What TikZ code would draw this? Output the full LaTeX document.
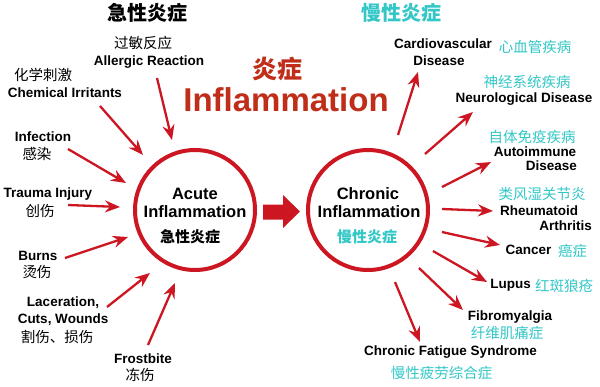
\documentclass[tikz,border=0pt]{standalone}
\usepackage{fontspec}
\setmainfont{Liberation Sans}
\newfontfamily\cjk{Noto Sans CJK SC}
\usetikzlibrary{arrows.meta}
\definecolor{myred}{RGB}{204,22,34}
\definecolor{titlered}{RGB}{192,45,25}
\definecolor{myteal}{RGB}{51,199,199}
\tikzset{
  en/.style={font=\fontsize{13.5}{15}\selectfont\bfseries, inner sep=0pt},
  zh/.style={font=\cjk\fontsize{14.5}{16}\selectfont, inner sep=0pt},
  zhc/.style={zh, text=myteal},
  arr/.style={draw=myred, line width=2.3pt, -{Stealth[length=15pt,width=12pt,inset=5pt]}},
  ring/.style={circle, draw=myred, line width=4pt, minimum size=120pt, inner sep=0pt},
}
\begin{document}
\begin{tikzpicture}[x=1pt,y=-1pt]
\useasboundingbox (0,0) rectangle (600,386);
\fill[white] (0,0) rectangle (600,386);
% titles
\node[font=\cjk\bfseries\fontsize{20}{22}\selectfont, inner sep=0pt] (tacute) at (147,13) {急性炎症};
\node[font=\cjk\bfseries\fontsize{20}{22}\selectfont, text=myteal, inner sep=0pt] (tchronic) at (401,13) {慢性炎症};
\node[font=\cjk\bfseries\fontsize{25}{27}\selectfont, text=titlered, inner sep=0pt] (tzh) at (277,69) {炎症};
\node[font=\bfseries\fontsize{33}{36}\selectfont, text=titlered, inner sep=0pt] (ten) at (286,100) {Inflammation};
% circles
\node[ring] (acute) at (195,210) {};
\node[ring] (chronic) at (368,210) {};
\node[en, font=\fontsize{16.5}{18}\selectfont\bfseries] (a1) at (195,194) {Acute};
\node[en, font=\fontsize{16.5}{18}\selectfont\bfseries] (a2) at (195,212) {Inflammation};
\node[zh, font=\cjk\bfseries\fontsize{15}{17}\selectfont] (a3) at (190,237) {急性炎症};
\node[en, font=\fontsize{16.5}{18}\selectfont\bfseries] (c1) at (368,194) {Chronic};
\node[en, font=\fontsize{16.5}{18}\selectfont\bfseries] (c2) at (369,212) {Inflammation};
\node[zhc, font=\cjk\bfseries\fontsize{15}{17}\selectfont] (c3) at (367,237) {慢性炎症};
% block arrow
\fill[myred] (263,204.5) -- (283,204.5) -- (283,195) -- (300,211.5) -- (283,228) -- (283,219.5) -- (263,219.5) -- cycle;
% left labels
\node[zh] (allzh) at (143,43) {过敏反应};
\node[en] (allen) at (149,62) {Allergic Reaction};
\node[zh] (chemzh) at (43,75) {化学刺激};
\node[en] (chemen) at (65,93) {Chemical Irritants};
\node[en] (infen) at (43,137) {Infection};
\node[zh] (infzh) at (37,154) {感染};
\node[en] (traen) at (48,194) {Trauma Injury};
\node[zh] (trazh) at (40,211) {创伤};
\node[en] (burnen) at (38,256) {Burns};
\node[zh] (burnzh) at (37,272) {烫伤};
\node[en] (lacen1) at (63,303) {Laceration,};
\node[en] (lacen2) at (63,320) {Cuts, Wounds};
\node[zh] (laczh) at (57,337) {割伤、损伤};
\node[en] (frosten) at (143,359) {Frostbite};
\node[zh] (frostzh) at (140,375) {冻伤};
% right labels
\node[en] (cv1) at (443,44) {Cardiovascular};
\node[en] (cv2) at (439,61) {Disease};
\node[zhc] (cvzh) at (535,47) {心血管疾病};
\node[zhc] (nezh) at (527,82) {神经系统疾病};
\node[en] (neen) at (524,99) {Neurological Disease};
\node[zhc] (auzh) at (532,137) {自体免疫疾病};
\node[en] (au1) at (535,152) {Autoimmune};
\node[en, anchor=east] (au2) at (577,166) {Disease};
\node[zhc] (rhzh) at (542,194) {类风湿关节炎};
\node[en] (rh1) at (539,211) {Rheumatoid};
\node[en, anchor=east] (rh2) at (592,226) {Arthritis};
\node[en] (caen) at (528.5,250) {Cancer};
\node[zhc] (cazh) at (572.5,251) {癌症};
\node[en] (luen) at (510.5,285) {Lupus};
\node[zhc] (luzh) at (564,286) {红斑狼疮};
\node[en] (fien) at (510,317) {Fibromyalgia};
\node[zhc] (fizh) at (507,333) {纤维肌痛症};
\node[en] (cfen) at (450.5,352) {Chronic Fatigue Syndrome};
\node[zhc] (cfzh) at (441.5,373) {慢性疲劳综合症};
% arrow end points
\coordinate (s1) at (157,78);  \coordinate (e1) at (172,140);
\coordinate (s2) at (100,106); \coordinate (e2) at (143,155);
\coordinate (s3) at (68,149);  \coordinate (e3) at (126,183);
\coordinate (s4) at (68,205);  \coordinate (e4) at (120,207);
\coordinate (s5) at (65,258);  \coordinate (e5) at (128,237);
\coordinate (s6) at (107,307); \coordinate (e6) at (150,273);
\coordinate (s7) at (148,345); \coordinate (e7) at (175,283);
\coordinate (r1s) at (398,135); \coordinate (r1e) at (418,72);
\coordinate (r2s) at (425,154); \coordinate (r2e) at (473,112);
\coordinate (r3s) at (442,187); \coordinate (r3e) at (491,162);
\coordinate (r4s) at (442,209); \coordinate (r4e) at (493,211);
\coordinate (r5s) at (442,232); \coordinate (r5e) at (500,245);
\coordinate (r6s) at (433,251); \coordinate (r6e) at (487,282);
\coordinate (r7s) at (419,268); \coordinate (r7e) at (463,310);
\coordinate (r8s) at (395,282); \coordinate (r8e) at (420,342);
\foreach \a/\b in {s1/e1,s2/e2,s3/e3,s4/e4,s5/e5,s6/e6,s7/e7,r1s/r1e,r2s/r2e,r3s/r3e,r4s/r4e,r5s/r5e,r6s/r6e,r7s/r7e,r8s/r8e}
  \draw[arr] (\a) -- (\b);
\end{tikzpicture}
\end{document}
